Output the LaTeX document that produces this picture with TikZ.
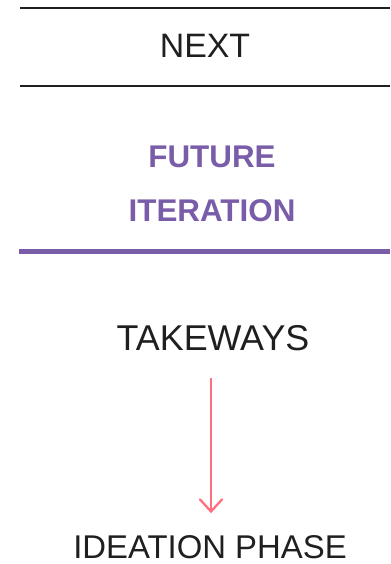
\documentclass[tikz,border=0pt]{standalone}
\usepackage{fontspec}
\setmainfont{Liberation Sans}
\usetikzlibrary{arrows.meta, positioning}
\definecolor{iterpurple}{HTML}{7A5DA8}
\definecolor{flowpink}{HTML}{FF6F80}
\tikzset{
  label/.style={inner sep=0pt, font=\fontsize{33}{40}\selectfont, text=black!88},
  heading/.style={inner sep=0pt, font=\fontsize{31.5}{38}\selectfont\bfseries, text=iterpurple},
  rule/.style={line width=2.7bp, black!88},
  flow/.style={draw=flowpink, line width=2.3bp, -{Straight Barb[length=12bp, width=22bp, line cap=round]}}
}

\begin{document}
\begin{tikzpicture}[x=1bp, y=-1bp]
\useasboundingbox (0,0) rectangle (390,564);
\draw[rule] (20,8)--(390,8);
\draw[rule] (20,86)--(390,86);
\draw[line width=5bp, iterpurple] (19,251.5)--(390,251.5);

\node[label, font=\fontsize{34}{40}\selectfont] (next) at (205,45.5) {NEXT};
\node[heading] (future) at (212,156.5) {FUTURE};
\node[heading] (iteration) at (212,211) {ITERATION};
\node[label, font=\fontsize{36}{42}\selectfont] (takeways) at (213,338) {TAKEWAYS};
\node[label] (ideation) at (210,547) {IDEATION PHASE};

\draw[flow, shorten <=27bp, shorten >=22bp] (takeways.south -| 211,0) -- (ideation.north -| 211,0);
\end{tikzpicture}
\end{document}
